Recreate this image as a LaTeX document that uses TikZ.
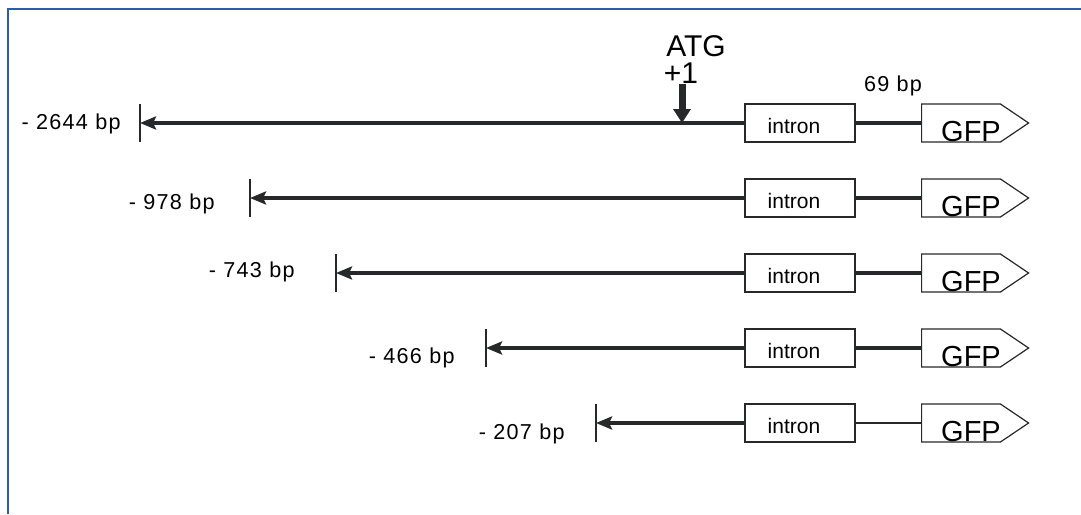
\documentclass[tikz,border=0pt]{standalone}
\usepackage{fontspec}
\setmainfont{Liberation Sans}
\usetikzlibrary{arrows.meta,shapes.symbols}
\definecolor{framecol}{RGB}{46,92,168}
\definecolor{inkcol}{RGB}{38,40,42}
\newcommand{\bpfont}{\fontsize{10.8}{12}\selectfont\addfontfeature{LetterSpace=6}}

\begin{document}
\begin{tikzpicture}[
    x=0.5pt, y=-0.5pt,
    >={Stealth[length=8pt,width=6.5pt,inset=1.5pt]},
    frame/.style={
        draw=framecol,
        line width=1pt
    },
    dna/.style={
        draw=inkcol,
        line width=1.7pt
    },
    link/.style={
        draw=inkcol,
        line width=0.7pt
    },
    endmark/.style={
        draw=inkcol,
        line width=0.6pt
    },
    intronbox/.style={
        draw=inkcol,
        rectangle,
        minimum width=55pt,
        minimum height=19pt,
        inner sep=0pt,
        text height=10.5pt,
        text depth=0pt,
        line width=0.6pt,
        font=\fontsize{10.5}{12}\selectfont
    },
    gfpbox/.style={
        draw=inkcol,
        signal,
        signal to=east,
        signal pointer angle=68,
        minimum width=53.5pt,
        minimum height=19pt,
        inner sep=0pt,
        line width=0.6pt
    },
    bplabel/.style={
        font=\bpfont,
        anchor=east,
        inner sep=0pt
    },
    big/.style={
        font=\fontsize{15}{16}\selectfont,
        inner sep=0pt
    }
]

\useasboundingbox (0,0) rectangle (1081,514);

% frame, cut at right and bottom
\draw[frame] (8,514) -- (8,9) -- (1081,9);

% five promoter constructs
\foreach \i/\y/\tx/\lx/\ly/\len/\lw in {
    1/123/140/121/124/2644/dna,
    2/198/250/215/204/978/dna,
    3/273/336/295/272/743/dna,
    4/348/486/455/358/466/dna,
    5/423/596/565/434/207/link}{
    \coordinate (tick\i) at (\tx,\y);
    \node[intronbox] (intron\i) at (800,\y) {intron\kern6pt};
    \node[gfpbox, anchor=west] (gfp\i) at (921,\y) {};
    \node[font=\fontsize{14.5}{15}\selectfont, anchor=base, inner sep=0pt]
        (gfptext\i) at (971,141-123+\y) {GFP};
    \node[bplabel] (len\i) at (\lx,\ly) {- \len\ bp};
    \draw[endmark] (tick\i) ++(0,-19) -- ++(0,38);
    \draw[dna, ->] (intron\i.west) -- (tick\i);
    \draw[\lw] (intron\i.east) -- (gfp\i.west);
}

% start codon
\node[big] (atg) at (696,46) {ATG};
\node[big] (plus) at (681,73) {+1};
\coordinate (start) at (682,123);
\draw[
    draw=inkcol,
    line width=3.5pt,
    -{Triangle[length=7pt,width=8.5pt]}
]
    (plus.south -| start) --
    (start);

\node[font=\bpfont, inner sep=0pt] (spacer) at (893,86) {69 bp};

\end{tikzpicture}
\end{document}
